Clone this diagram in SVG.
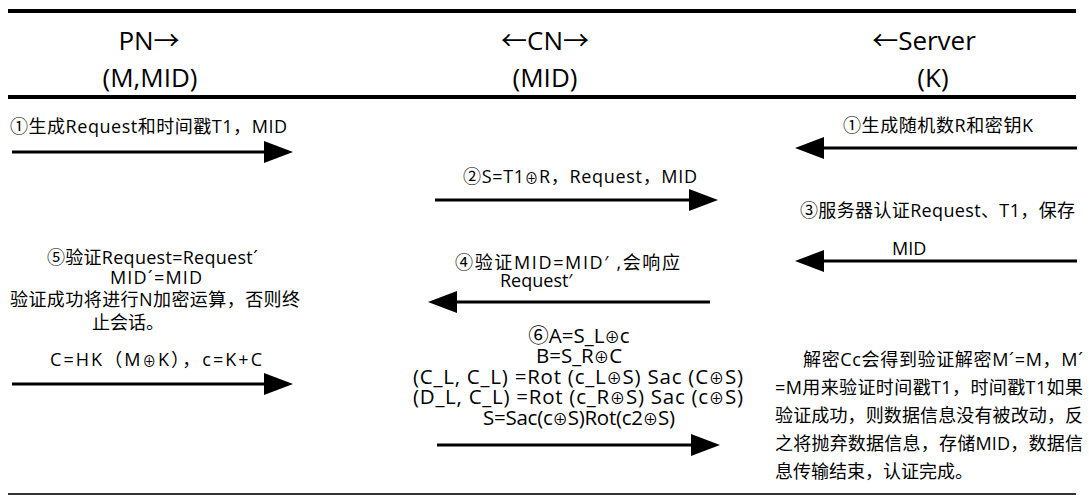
<svg xmlns="http://www.w3.org/2000/svg" width="1089" height="495" viewBox="0 0 1089 495">
<style>
text{font-family:"Open Sans","Noto Sans CJK SC",sans-serif;fill:#000}
.h{font-size:26px;text-anchor:middle}
.t{font-size:18px}
.m{text-anchor:middle}
.f{font-size:20.5px;text-anchor:middle}
.o{font-size:0.75em}
.rule{stroke:#000;stroke-width:4}
.arr{stroke:#000;stroke-width:3;fill:none;marker-end:url(#ah)}
</style>
<defs>
<marker id="ah" markerUnits="userSpaceOnUse" markerWidth="29" markerHeight="22" refX="19" refY="11" orient="auto">
<path d="M0,0 L29,11 L0,22 Z" fill="#000"/>
</marker>
</defs>
<rect width="1089" height="495" fill="#fff"/>
<g id="rules">
<line class="rule" x1="8" y1="11" x2="1076" y2="11"/>
<line class="rule" x1="8" y1="97" x2="1076" y2="97"/>
<line x1="8" y1="494" x2="1076" y2="494" stroke="#333" stroke-width="2"/>
</g>
<g id="header-pn"><text class="h" x="149" y="50">PN→</text><text class="h" x="150" y="87">(M,MID)</text></g>
<g id="header-cn"><text class="h" x="545" y="50">←CN→</text><text class="h" x="545" y="87">(MID)</text></g>
<g id="header-server"><text class="h" x="924" y="50">←Server</text><text class="h" x="933" y="87">(K)</text></g>
<g id="connectors">
<line class="arr" x1="12" y1="152" x2="283" y2="152"/>
<line class="arr" x1="1077" y1="148" x2="805" y2="148"/>
<line class="arr" x1="435" y1="200" x2="708" y2="200"/>
<line class="arr" x1="1077" y1="261" x2="805" y2="261"/>
<line class="arr" x1="710" y1="302" x2="438" y2="302"/>
<line class="arr" x1="12" y1="384" x2="283" y2="384"/>
<line class="arr" x1="437" y1="445" x2="710" y2="445"/>
</g>
<g id="msg1-pn"><text class="t" x="10" y="133" textLength="277">①生成Request和时间戳T1，MID</text></g>
<g id="msg1-server"><text class="t" x="843" y="132" textLength="190">①生成随机数R和密钥K</text></g>
<g id="msg2"><text class="t" x="463" y="183" textLength="234">②S=T1<tspan class="o">⊕</tspan>R，Request，MID</text></g>
<g id="msg3"><text class="t" x="800" y="217" textLength="275">③服务器认证Request、T1，保存</text><text class="t" x="892" y="255">MID</text></g>
<g id="msg4"><text class="t" x="455" y="269" textLength="225">④验证MID=MID′ ,会响应</text><text class="t" x="500" y="287">Request′</text></g>
<g id="msg5">
<text class="t" x="47" y="264" textLength="211">⑤验证Request=Request´</text>
<text class="t" x="110" y="284" textLength="92">MID´=MID</text>
<text class="t" x="10" y="306" textLength="290">验证成功将进行N加密运算，否则终</text>
<text class="t" x="92" y="329">止会话。</text>
<text class="t" x="50" y="366" textLength="212">C=HK（M<tspan class="o">⊕</tspan>K），c=K+C</text>
</g>
<g id="msg6">
<text class="f" x="579" y="343">⑥A=S_L<tspan class="o">⊕</tspan>c</text>
<text class="f" x="579" y="363">B=S_R<tspan class="o">⊕</tspan>C</text>
<text class="f" x="578" y="384" textLength="330">(C_L, C_L) =Rot (c_L<tspan class="o">⊕</tspan>S) Sac (C<tspan class="o">⊕</tspan>S)</text>
<text class="f" x="578" y="404" textLength="330">(D_L, C_L) =Rot (c_R<tspan class="o">⊕</tspan>S) Sac (c<tspan class="o">⊕</tspan>S)</text>
<text class="f" x="579" y="425" textLength="192">S=Sac(c<tspan class="o">⊕</tspan>S)Rot(c2<tspan class="o">⊕</tspan>S)</text>
</g>
<g id="result">
<text class="t" x="803" y="366" textLength="280">解密Cc会得到验证解密M´=M，M´</text>
<text class="t" x="775" y="394" textLength="308">=M用来验证时间戳T1，时间戳T1如果</text>
<text class="t" x="775" y="422" textLength="308">验证成功，则数据信息没有被改动，反</text>
<text class="t" x="775" y="450" textLength="308">之将抛弃数据信息，存储MID，数据信</text>
<text class="t" x="775" y="478">息传输结束，认证完成。</text>
</g>
</svg>
